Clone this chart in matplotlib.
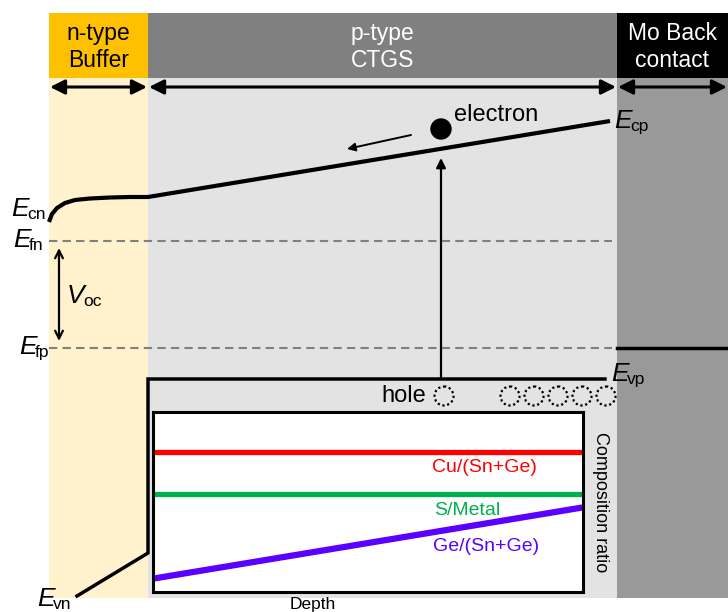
import matplotlib
matplotlib.use("Agg")
import matplotlib.pyplot as plt
from matplotlib.patches import Rectangle, Circle

plt.rcParams["font.family"] = ["Liberation Sans", "DejaVu Sans"]

# layer layout (pixel units, y grows downward)
layer_names = ["n-type\nBuffer", "p-type\nCTGS", "Mo Back\ncontact"]
layer_x = [49, 148, 617, 728]
head_colors = ["#FFC000", "#808080", "#000000"]
head_text = ["#000000", "#FFFFFF", "#FFFFFF"]
body_colors = ["#FFF2CC", "#E3E3E3", "#999999"]

# band edges
ec_x = [49, 52, 57, 65, 75, 90, 110, 130, 148, 610]
ec_y = [222, 214, 208, 203, 200, 198.5, 197.5, 197, 197, 121]
ev_x = [77, 148, 148, 605]
ev_y = [596, 553, 379, 379]
efn_y, efp_y = 241, 348
mo_level = 348

# composition vs depth
depth = [0, 1]
cu_ratio = [0.78, 0.78]
s_ratio = [0.544, 0.544]
ge_ratio = [0.078, 0.467]

hole_x = [510, 534, 558, 582, 606]

fig = plt.figure(figsize=(7.28, 6.12), dpi=100)
ax = fig.add_axes([0, 0, 1, 1])
ax.set_xlim(0, 728); ax.set_ylim(612, 0); ax.axis("off")

for i, name in enumerate(layer_names):
    x0, x1 = layer_x[i], layer_x[i + 1]
    ax.add_patch(Rectangle((x0, 13), x1 - x0, 65, color=head_colors[i], lw=0))
    ax.add_patch(Rectangle((x0, 78), x1 - x0, 520, color=body_colors[i], lw=0))
    ax.text((x0 + x1) / 2, 47, name, ha="center", va="center", fontsize=16.5,
            color=head_text[i], linespacing=1.2)
    ax.annotate("", xy=(x0 + 1, 87), xytext=(x1 - 1, 87),
                arrowprops=dict(arrowstyle="<|-|>", lw=2.2, color="black",
                                mutation_scale=22, shrinkA=0, shrinkB=0))

# Fermi levels and band edges
for y in (efn_y, efp_y):
    ax.plot([49, 612], [y, y], color="#808080", lw=1.5, dashes=(4, 2.5))
ax.plot([617, 728], [mo_level, mo_level], color="black", lw=2.5)
ax.plot(ec_x, ec_y, color="black", lw=3, solid_capstyle="butt")
ax.plot(ev_x, ev_y, color="black", lw=2.5, solid_joinstyle="miter")

# Voc arrow
ax.annotate("", xy=(59, 248), xytext=(59, 341),
            arrowprops=dict(arrowstyle="<->", lw=1.6, color="black",
                            mutation_scale=14, shrinkA=0, shrinkB=0))

def level_label(x, y, main, sub):
    t = ax.text(x, y, main, fontsize=19, ha="left", va="center", style="italic")
    ax.annotate(sub, xycoords=t, xy=(1, 0), xytext=(-1, 5),
                textcoords="offset points", fontsize=12.5, va="center")

level_label(11, 209, "E", "cn")
level_label(13, 240, "E", "fn")
level_label(19, 347, "E", "fp")
level_label(37, 599, "E", "vn")
level_label(614, 121, "E", "cp")
level_label(611, 374, "E", "vp")
level_label(67, 296, "V", "oc")

# carriers
ax.annotate("", xy=(441, 158), xytext=(441, 378),
            arrowprops=dict(arrowstyle="-|>", lw=1.6, color="black",
                            mutation_scale=14, shrinkA=0, shrinkB=0))
ax.add_patch(Circle((441, 129), 10, color="black"))
ax.text(454, 115, "electron", fontsize=17, ha="left", va="center")
ax.annotate("", xy=(347, 149), xytext=(411, 135),
            arrowprops=dict(arrowstyle="-|>", lw=1.4, color="black",
                            mutation_scale=12, shrinkA=0, shrinkB=0))
ax.text(404, 396, "hole", fontsize=17, ha="center", va="center")
for x in [444] + hole_x:
    ax.add_patch(Circle((x, 396), 9.5, fill=False, ls=(0, (1, 1.2)), lw=1.6,
                        ec="black"))

# composition inset
ins = fig.add_axes([153 / 728, 20 / 612, 430 / 728, 180 / 612])
ins.set_xlim(-0.01, 1.008); ins.set_ylim(0, 1)
ins.set_xticks([]); ins.set_yticks([])
for s in ins.spines.values():
    s.set_linewidth(2.2)
ins.plot(depth, cu_ratio, color="#FF0000", lw=3.8)
ins.plot(depth, s_ratio, color="#00B050", lw=3.8)
ins.plot(depth, ge_ratio, color="#5A00FF", lw=4.5)
ins.text(0.77, 0.69, "Cu/(Sn+Ge)", color="#FF0000", fontsize=14, ha="center",
         va="center", transform=ins.transAxes)
ins.text(0.73, 0.455, "S/Metal", color="#00B050", fontsize=14, ha="center",
         va="center", transform=ins.transAxes)
ins.text(0.775, 0.255, "Ge/(Sn+Ge)", color="#5A00FF", fontsize=14, ha="center",
         va="center", transform=ins.transAxes)
ax.text(600, 502, "Composition ratio", rotation=-90, fontsize=13, ha="center",
        va="center")
ax.text(313, 605, "Depth", fontsize=12.5, ha="center", va="center")

fig.savefig("out.png", dpi=100)
